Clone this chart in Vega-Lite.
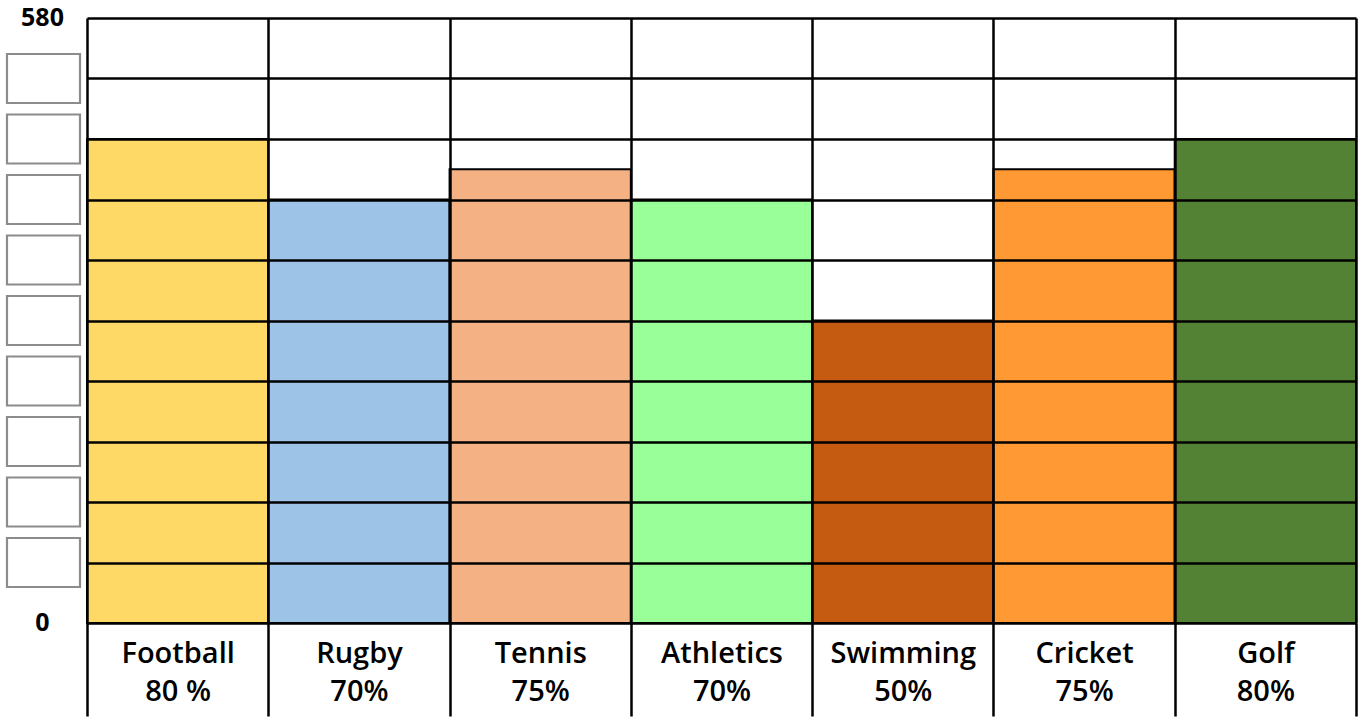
{
  "$schema": "https://vega.github.io/schema/vega-lite/v6.json",
  "padding": {"left": 0, "top": 6, "right": 0, "bottom": 0},
  "spacing": -2,
  "datasets": {
    "sports": [
      {"sport": "Football|80 %", "value": 464},
      {"sport": "Rugby|70%", "value": 406},
      {"sport": "Tennis|75%", "value": 435},
      {"sport": "Athletics|70%", "value": 406},
      {"sport": "Swimming|50%", "value": 290},
      {"sport": "Cricket|75%", "value": 435},
      {"sport": "Golf|80%", "value": 464}
    ],
    "boxes": [
      {"level": 58}, {"level": 116}, {"level": 174}, {"level": 232}, {"level": 290},
      {"level": 348}, {"level": 406}, {"level": 464}, {"level": 522}
    ],
    "ends": [
      {"level": 0, "text": "0"},
      {"level": 580, "text": "580"}
    ]
  },
  "hconcat": [
    {
      "width": 87,
      "height": 605,
      "layer": [
        {
          "data": {"name": "boxes"},
          "mark": {"type": "point", "shape": "M-1,-0.671H1V0.671H-1Z", "size": 5329, "filled": true, "fill": "white", "stroke": "#8c8c8c", "strokeWidth": 2.2, "opacity": 1},
          "encoding": {
            "y": {"field": "level", "type": "quantitative", "scale": {"domain": [0, 580], "nice": false}, "axis": null}
          }
        },
        {
          "data": {"name": "ends"},
          "mark": {"type": "text", "font": "Open Sans", "fontWeight": 700, "fontSize": 25, "color": "black", "baseline": "middle", "align": "center", "dx": -1},
          "encoding": {
            "y": {"field": "level", "type": "quantitative", "scale": {"domain": [0, 580], "nice": false}, "axis": null},
            "text": {"field": "text"}
          }
        }
      ]
    },
    {
      "width": 1269,
      "height": 605,
      "data": {"name": "sports"},
      "mark": {"type": "bar", "stroke": "black", "strokeWidth": 2},
      "encoding": {
        "x": {
          "field": "sport", "type": "nominal", "sort": null,
          "scale": {"paddingInner": 0, "paddingOuter": 0},
          "axis": {
            "title": null, "zindex": 1, "domain": false,
            "tickBand": "extent", "ticks": true, "tickSize": 93, "tickColor": "black", "tickWidth": 2.5,
            "grid": true, "gridColor": "black", "gridWidth": 2.5, "gridOpacity": 1,
            "labelExpr": "datum.value ? split(datum.value, '|') : ''",
            "labelFont": "Open Sans", "labelFontWeight": 600, "labelFontSize": 29, "labelColor": "black",
            "labelAngle": 0, "labelBaseline": "alphabetic", "labelPadding": -54, "labelLineHeight": 38.5
          }
        },
        "y": {
          "field": "value", "type": "quantitative",
          "scale": {"domain": [0, 580], "nice": false},
          "axis": {
            "title": null, "zindex": 1, "labels": false, "ticks": false, "domain": false,
            "grid": true, "gridColor": "black", "gridWidth": 2.5, "gridOpacity": 1,
            "values": [0, 58, 116, 174, 232, 290, 348, 406, 464, 522, 580]
          }
        },
        "color": {
          "field": "sport", "type": "nominal", "legend": null,
          "scale": {
            "domain": ["Football|80 %", "Rugby|70%", "Tennis|75%", "Athletics|70%", "Swimming|50%", "Cricket|75%", "Golf|80%"],
            "range": ["#FFD966", "#9DC3E6", "#F4B183", "#99FF99", "#C55A11", "#FF9933", "#548235"]
          }
        }
      }
    }
  ],
  "config": {
    "view": {"stroke": null},
    "background": "white"
  }
}
